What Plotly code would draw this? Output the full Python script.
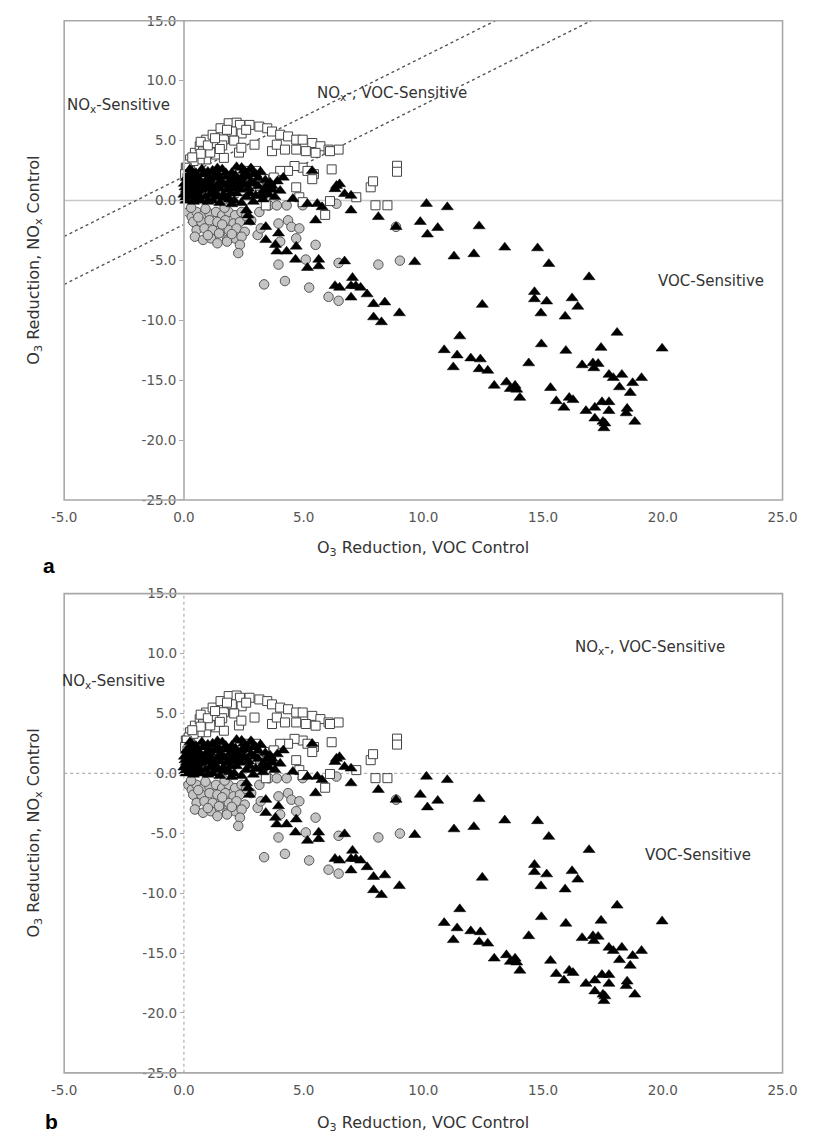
import plotly.graph_objects as go

# ---------------- data (O3 reduction: VOC control vs NOx control) ----------------
SQ_X = [0.08, 0.26, 0.46, 0.66, 0.93, 1.2, 1.53, 1.87, 2.2, 2.34, 2.74, 3.15, 3.48, 3.68, 4.02, 4.35, 4.69, 4.96,
        5.36, 5.7, 6.04, 6.46, 6.1,
        0.2, 0.53, 0.8, 1.07, 1.34, 1.67, 2.0, 2.41, 2.95, 3.68, 3.88, 4.22, 4.69, 5.09, 5.5, 0.93, 0.66, 1.34,
        1.67, 0.4, 0.26, 0.12,
        4.96, 5.16, 5.43, 5.36, 4.62, 4.35, 4.02, 3.75, 3.35, 3.08, 2.81, 2.68, 3.01, 4.69, 4.82, 4.96, 6.17,
        3.42, 5.9, 6.1, 7.2, 7.8, 7.9, 8.0, 8.5, 8.9, 8.9,
        0.7, 1.6, 2.1, 2.3, 1.1, 1.0, 1.5, 2.6, 1.8, 1.3, 0.7, 0.35, 2.4, 0.05, 0.15]
SQ_Y = [2.74, 3.43, 3.98, 4.53, 5.08, 5.49, 6.03, 6.45, 6.5, 6.31, 6.31, 6.17, 6.03, 5.76, 5.49, 5.35, 5.08, 5.08,
        4.8, 4.53, 4.25, 4.25, 4.12,
        3.0, 3.56, 4.1, 4.5, 4.8, 5.1, 5.76, 5.6, 4.66, 4.12, 4.66, 4.25, 4.25, 4.12, 3.98, 3.43, 3.43, 3.84,
        3.56, 3.3, 2.47, 2.74,
        2.74, 2.47, 2.2, 1.78, 2.88, 2.47, 2.47, 1.92, 1.78, 1.23, 0.96, 2.47, 2.47, 1.1, 0.27, -0.14, 2.6,
        -0.41, -1.2, -0.05, 0.27, 1.1, 1.6, -0.4, -0.4, 2.9, 2.4,
        4.9, 4.6, 5.0, 4.0, 4.0, 4.6, 4.3, 5.9, 5.9, 5.2, 3.9, 3.6, 4.4, 2.2, 1.9]

CI_X = [0.19, 0.33, 0.53, 0.8, 1.07, 1.34, 1.6, 1.87, 2.14, 2.41,
        0.39, 0.73, 1.07, 1.4, 1.73, 2.07, 2.34,
        0.53, 0.86, 1.2, 1.53, 1.87, 2.2, 2.54,
        0.46, 0.8, 1.13, 1.47, 1.8, 2.14, 2.41,
        1.4, 1.8, 2.34, 2.27,
        2.81, 3.15, 3.08, 3.21, 3.55, 3.88, 4.29, 3.95, 4.35, 4.49, 4.82, 4.69, 5.5, 4.02, 3.95, 4.22, 5.09,
        3.35, 5.23, 6.04, 6.46, 6.46, 8.12, 9.02, 8.86, 6.37, 4.96,
        0.3, 0.9, 1.7, 2.6, 1.0, 2.0, 1.6, 0.6]
CI_Y = [-0.96, -1.37, -0.96, -1.23, -1.1, -0.96, -1.23, -0.96, -1.23, -0.96,
        -1.78, -1.78, -1.65, -1.78, -1.65, -1.92, -1.78,
        -2.47, -2.33, -2.47, -2.61, -2.47, -2.33, -2.61,
        -3.02, -3.29, -3.16, -2.74, -3.29, -3.16, -3.02,
        -3.57, -3.43, -3.7, -4.39,
        -1.65, -0.96, -2.88, -2.33, -0.41, -0.41, -0.41, -1.92, -1.65, -2.2, -2.33, -3.16, -3.7, -3.43, -5.35,
        -6.72, -4.93,
        -7.0, -7.27, -8.04, -8.37, -5.21, -5.35, -5.02, -2.2, -0.27, -0.4,
        -0.6, -0.7, -0.6, -1.3, -2.9, -2.8, -2.0, -1.4]

TR_X = [0.05, 0.1, 0.12, 0.2, 0.08, 0.3, 0.35, 0.4, 0.5, 0.5, 0.6, 0.7, 0.8, 0.9, 1.0, 1.1, 1.2, 1.2, 1.3, 1.4,
        1.5, 1.6, 1.7, 1.8, 1.9, 2.0, 2.1, 2.2, 2.3, 2.4, 2.5, 2.6, 2.7, 2.8, 2.9, 3.0, 3.1, 3.2, 3.4, 3.5,
        3.7, 1.9, 0.25, 0.02, 0.7, 1.5, 2.4, 2.9, 3.3, 0.35, 1.0, 1.4, 2.2, 2.8, 2.41, 2.81, 3.0, 0.15, 0.45,
        0.65, 0.85, 1.05, 1.25, 1.55, 1.65, 2.05, 2.25, 2.55, 2.65, 3.3, 3.6, 0.55, 0.75, 1.35, 1.75, 2.1,
        0.0, 0.05, 0.1, 0.2, 0.25, 0.3, 0.45, 0.55, 0.6, 0.75, 0.9, 0.95, 1.1, 1.15, 1.3, 1.45, 1.5, 1.7,
        1.8, 1.95, 2.0, 2.15, 2.35, 2.45, 2.6, 2.75, 2.95, 3.1, 3.25, 3.45, 1.0, 0.4, 2.0, 3.8, 3.9,
        4.15, 5.36, 3.68, 4.02, 3.48, 4.55, 5.16, 5.57, 5.77, 5.5, 6.31, 6.5, 6.37, 6.71, 6.98, 6.98, 8.12,
        8.86, 2.68, 2.61, 2.74, 3.42, 3.95, 3.42, 3.82, 4.29, 4.69, 3.88, 4.66, 5.16, 5.63, 5.63, 6.71, 6.31,
        6.5, 7.04, 6.98, 7.18, 7.38, 6.98, 7.65, 7.92, 8.39, 7.92, 8.25, 9.0,
        10.13, 11.0, 9.87, 10.6, 10.17, 12.33, 9.64, 11.28, 12.11, 13.4, 14.77, 15.24, 16.92, 12.46, 14.64,
        14.64, 15.15, 14.91, 16.21, 16.45, 15.92, 11.52, 10.87, 11.41, 11.25, 11.98, 12.38, 12.33, 12.69,
        12.96, 13.47, 13.63, 13.83, 13.9, 14.03, 14.4, 14.93, 15.95, 15.31, 15.55, 15.87, 16.09, 16.25,
        16.63, 17.08, 17.12, 17.3, 17.42, 18.09, 19.97, 17.75, 17.93, 18.29, 18.19, 18.74, 19.11, 18.64,
        18.51, 18.47, 18.83, 16.79, 17.16, 17.16, 17.46, 17.75, 17.75, 17.5, 17.54, 17.58]
TR_Y = [0.2, 0.9, 1.5, 2.1, 0.0, 0.5, 1.2, 1.8, 2.3, 0.1, 0.8, 1.5, 2.2, 0.3, 1.0, 1.7, 2.5, 0.0, 0.6, 1.3,
        2.0, 2.6, 0.2, 0.9, 1.6, 2.3, 0.0, 0.6, 1.2, 1.9, 2.5, 0.3, 1.0, 1.6, 2.2, 0.4, 1.2, 2.4, 1.7, 0.5,
        0.9, 0.1, 2.6, 1.4, 0.0, -0.2, -0.2, -0.1, 0.1, 2.4, 2.4, 2.7, 2.8, 2.7, 2.74, 2.6, 2.2, 0.6, 1.5,
        0.4, 1.2, 1.9, 0.9, 1.6, 0.5, 1.0, 1.5, 1.3, 2.0, 0.8, 1.5, 2.0, 2.6, 2.2, 2.3, 1.8,
        0.5, 1.1, 1.9, 0.3, 1.0, 1.6, 0.6, 1.2, 1.8, 0.9, 1.6, 2.2, 0.5, 1.3, 1.9, 0.3, 1.0, 1.3,
        2.0, 0.6, 1.3, 2.1, 0.9, 1.5, 2.3, 0.6, 1.4, 1.9, 0.4, 1.2, -0.1, -0.1, -0.3, 0.3, 1.6,
        1.92, 2.47, 1.23, 0.82, 0.69, 0.14, -0.27, -0.27, -0.55, -1.65, 0.96, 1.37, 1.23, 0.55, 0.41, -0.82,
        -1.37, -2.2, -1.23, -0.82, -1.78, -2.2, -2.74, -3.29, -3.7, -4.25, -3.84, -4.25, -4.93, -5.62, -4.93,
        -5.48, -5.07, -7.13, -7.27, -6.45, -7.13, -7.13, -7.27, -8.09, -7.82, -8.64, -8.5, -9.74, -10.15, -9.4,
        -0.27, -0.55, -1.78, -2.28, -2.83, -2.14, -5.13, -4.66, -4.47, -3.92, -3.98, -5.29, -6.39, -8.7, -7.63,
        -8.23, -8.42, -9.41, -8.15, -8.86, -9.68, -11.33, -12.48, -12.92, -13.91, -13.17, -13.25, -14.07,
        -14.2, -15.45, -15.17, -15.72, -15.45, -15.78, -16.46, -13.58, -11.99, -12.54, -15.64, -16.74,
        -17.28, -16.46, -16.65, -13.74, -13.58, -13.99, -13.63, -12.29, -11.03, -12.35, -14.54, -14.81,
        -14.54, -15.58, -15.23, -14.81, -16.05, -17.37, -17.75, -18.46, -17.56, -17.28, -18.19, -16.82,
        -16.82, -17.56, -18.46, -19.0, -18.6]

X_TICKS = [-5, 0, 5, 10, 15, 20, 25]
Y_TICKS = [-25, -20, -15, -10, -5, 0, 5, 10, 15]
X_RANGE = [-5, 25]
Y_RANGE = [-25, 15]
DIAG_INTERCEPTS = [2, -2]   # dotted reference lines y = x + b (panel a)

# ---------------- layout geometry ----------------
W, H = 813, 1140
XD = [53 / W, 797 / W]
YD_A = [1 - 499 / H, 1 - 13 / H]
YD_B = [1 - 1080 / H, 1 - 594 / H]
YPOS = (53 + 744 * (0 - X_RANGE[0]) / (X_RANGE[1] - X_RANGE[0])) / W

FONT = "'DejaVu Sans', sans-serif"
TXT = "#333333"

fig = go.Figure()

for xa, ya in [("x", "y"), ("x2", "y2")]:
    fig.add_trace(go.Scatter(x=CI_X, y=CI_Y, mode="markers", xaxis=xa, yaxis=ya, showlegend=False,
                             marker=dict(symbol="circle", size=9.5, color="#c4c4c4",
                                         line=dict(color="#555555", width=1))))
    fig.add_trace(go.Scatter(x=SQ_X, y=SQ_Y, mode="markers", xaxis=xa, yaxis=ya, showlegend=False,
                             marker=dict(symbol="square", size=9, color="white",
                                         line=dict(color="#444444", width=1))))
    fig.add_trace(go.Scatter(x=TR_X, y=TR_Y, mode="markers", xaxis=xa, yaxis=ya, showlegend=False,
                             marker=dict(symbol="triangle-up", size=10.5, color="black",
                                         line=dict(color="black", width=0.5))))

tick_txt_x = [f"{v:.1f}" for v in X_TICKS]
tick_txt_y = [f"{v:.1f}" for v in Y_TICKS]

tfont = dict(family=FONT, size=13.5, color="#555")
xcommon = dict(domain=XD, range=X_RANGE, tickvals=X_TICKS, ticktext=tick_txt_x, showgrid=False,
               zeroline=False, showline=False, ticks="", ticklabelstandoff=8, tickfont=tfont)
ycommon = dict(range=Y_RANGE, tickvals=Y_TICKS, ticktext=tick_txt_y, showgrid=False, zeroline=False,
               anchor="free", position=YPOS, ticks="outside", ticklen=4, tickcolor="#aaaaaa",
               tickfont=tfont)

fig.update_layout(
    width=W, height=H, autosize=False,
    margin=dict(l=0, r=0, t=0, b=0),
    paper_bgcolor="white", plot_bgcolor="white",
    xaxis=dict(anchor="y", **xcommon),
    xaxis2=dict(anchor="y2", **xcommon),
    yaxis=dict(domain=YD_A, showline=True, linecolor="#bbbbbb", linewidth=1.5, **ycommon),
    yaxis2=dict(domain=YD_B, showline=False, **ycommon),
)

shapes = []
# frames
for xr, yr in [("x domain", "y domain"), ("x2 domain", "y2 domain")]:
    shapes.append(dict(type="rect", xref=xr, yref=yr, x0=0, x1=1, y0=0, y1=1,
                       line=dict(color="#a8a8a8", width=1.6), layer="above"))
# panel a: solid zero line
shapes.append(dict(type="line", xref="x", yref="y", x0=X_RANGE[0], x1=X_RANGE[1], y0=0, y1=0,
                   line=dict(color="#c8c8c8", width=1.6), layer="below"))
# panel a: dotted diagonals
for b in DIAG_INTERCEPTS:
    x0 = X_RANGE[0]
    y0 = x0 + b
    x1 = Y_RANGE[1] - b
    y1 = Y_RANGE[1]
    shapes.append(dict(type="line", xref="x", yref="y", x0=x0, y0=y0, x1=x1, y1=y1,
                       line=dict(color="#555555", width=1.4, dash="dot"), layer="below"))
# panel b: dotted zero lines
shapes.append(dict(type="line", xref="x2", yref="y2", x0=X_RANGE[0], x1=X_RANGE[1], y0=0, y1=0,
                   line=dict(color="#b0b0b0", width=1.2, dash="dot"), layer="below"))
shapes.append(dict(type="line", xref="x2", yref="y2", x0=0, x1=0, y0=Y_RANGE[0], y1=Y_RANGE[1],
                   line=dict(color="#b0b0b0", width=1.2, dash="dot"), layer="below"))
fig.update_layout(shapes=shapes)

ann = []
lab = dict(family=FONT, size=15, color=TXT)
ttl = dict(family=FONT, size=16, color=TXT)
c = dict(showarrow=False, xanchor="center", yanchor="middle")
# region labels panel a
ann.append(dict(x=-2.75, y=7.9, xref="x", yref="y", text="NO<sub>x</sub>-Sensitive", font=lab, **c))
ann.append(dict(x=8.7, y=8.9, xref="x", yref="y", text="NO<sub>x</sub>-, VOC-Sensitive", font=lab, **c))
ann.append(dict(x=22.0, y=-6.7, xref="x", yref="y", text="VOC-Sensitive", font=lab, **c))
# region labels panel b
ann.append(dict(x=-2.95, y=7.65, xref="x2", yref="y2", text="NO<sub>x</sub>-Sensitive", font=lab, **c))
ann.append(dict(x=19.45, y=10.5, xref="x2", yref="y2", text="NO<sub>x</sub>-, VOC-Sensitive", font=lab, **c))
ann.append(dict(x=21.45, y=-6.8, xref="x2", yref="y2", text="VOC-Sensitive", font=lab, **c))
# axis titles
for yc, xt_y in [((13 + 499) / 2, 548), ((594 + 1080) / 2, 1131)]:
    ann.append(dict(x=22 / W, y=1 - yc / H, xref="paper", yref="paper",
                    text="O<sub>3</sub> Reduction, NO<sub>x</sub> Control", textangle=-90, font=ttl, **c))
    ann.append(dict(x=425 / W, y=1 - xt_y / H, xref="paper", yref="paper",
                    text="O<sub>3</sub> Reduction, VOC Control", font=ttl, **c))
# panel letters
ann.append(dict(x=37 / W, y=1 - 565 / H, xref="paper", yref="paper", text="<b>a</b>",
                font=dict(family="Liberation Sans, Arial", size=21, color="black"), **c))
ann.append(dict(x=40 / W, y=1 - 1129 / H, xref="paper", yref="paper", text="<b>b</b>",
                font=dict(family="Liberation Sans, Arial", size=21, color="black"), **c))
fig.update_layout(annotations=ann)

fig.write_html("out.html")
